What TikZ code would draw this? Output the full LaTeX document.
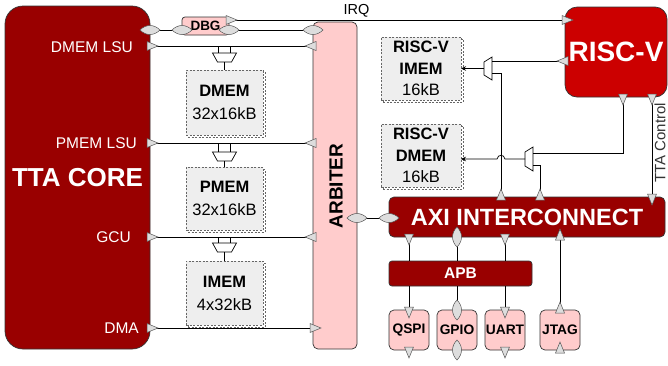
\documentclass[tikz,border=0pt]{standalone}
\usepackage{fontspec}
\setmainfont{Liberation Sans}
\usetikzlibrary{arrows.meta}
\definecolor{darkred}{HTML}{990000}
\definecolor{rvred}{HTML}{CC0000}
\definecolor{pinkfill}{HTML}{FFCCCC}
\definecolor{memfill}{HTML}{EEEEEE}
\definecolor{memline}{HTML}{666666}
\definecolor{portfill}{HTML}{DDDDDD}
\definecolor{portline}{HTML}{555555}
\definecolor{edgegray}{HTML}{333333}
\newcommand{\fsz}[2]{\fontsize{#1}{#2}\selectfont}
\begin{document}
\begin{tikzpicture}[x=1pt,y=-1pt,
  box/.style={draw=edgegray, line width=0.7pt, inner sep=0pt, outer sep=0pt},
  core/.style={box, fill=darkred, rounded corners=18pt, minimum width=145pt, minimum height=343pt, text=white, font=\bfseries\fsz{26}{30}},
  arbstyle/.style={box, fill=pinkfill, rounded corners=5pt, minimum width=44pt, minimum height=327pt},
  dbgstyle/.style={box, fill=pinkfill, rounded corners=3pt, minimum width=47pt, minimum height=18pt, font=\bfseries\fsz{13.5}{15}},
  rvstyle/.style={box, fill=rvred, rounded corners=12pt, minimum width=102pt, minimum height=90pt, text=white, font=\bfseries\fsz{28}{32}},
  busstyle/.style={box, fill=darkred, rounded corners=5pt, text=white},
  periph/.style={box, fill=pinkfill, rounded corners=5pt, minimum width=40pt, minimum height=40pt, font=\bfseries\fsz{13.8}{16}},
  mem/.style={draw=memline, line width=0.6pt, dash pattern=on 2pt off 1.5pt, fill=memfill, inner sep=0pt, outer sep=0pt, align=center,
     preaction={draw=memline, line width=0.6pt, dash pattern=on 2pt off 1.5pt, fill=white, transform canvas={shift={(2pt,-2pt)}}}},
  wire/.style={draw=black, line width=0.7pt},
  port/.style={fill=portfill, draw=portline, line width=0.5pt},
  muxs/.style={draw=black, line width=0.7pt, fill=white},
  pics/tri/.style={code={\draw[port] (-3,-4.5) -- (8,0) -- (-3,4.5) -- cycle;}},
  pics/dia/.style={code={\draw[port] (-10,0) .. controls (-4,-6) and (4,-6) .. (10,0) .. controls (4,6) and (-4,6) .. (-10,0) -- cycle;}},
  lbl/.style={text=white, font=\fsz{15.5}{18}, inner sep=0pt},
  arr/.style={-{Stealth[length=5pt,width=4.5pt]}}
]
\fill[white] (0,0) rectangle (668,365);
\useasboundingbox (0,0) rectangle (668,365);

% main blocks
\node[core] (tta) at (77.5,177.5) {TTA CORE};
\node[arbstyle] (arb) at (335,185.5) {};
\node[font=\bfseries\fsz{19}{22}, rotate=90, inner sep=0pt] (arbt) at (336,186) {ARBITER};
\node[dbgstyle] (dbg) at (205.5,26) {DBG};
\node[rvstyle] (rv) at (616,52) {RISC-V};
\node[busstyle, minimum width=276pt, minimum height=40pt, font=\bfseries\fsz{23.5}{26}] (axi) at (527,217) {AXI INTERCONNECT};
\node[busstyle, rounded corners=3pt, minimum width=143pt, minimum height=25pt, font=\bfseries\fsz{15.5}{18}] (apb) at (460.5,273.5) {APB};
\node[periph] (qspi) at (409,330) {QSPI};
\node[periph] (gpio) at (457,330) {GPIO};
\node[periph] (uart) at (505,330) {UART};
\node[periph] (jtag) at (560,330) {JTAG};

% memories
\node[mem, minimum width=77pt, minimum height=65pt, font=\fsz{16.5}{23}] (dmem) at (224.5,102.5) {\textbf{DMEM}\\32x16kB};
\node[mem, minimum width=77pt, minimum height=63pt, font=\fsz{16.5}{23}] (pmem) at (224.5,198.5) {\textbf{PMEM}\\32x16kB};
\node[mem, minimum width=77pt, minimum height=64pt, font=\fsz{16.5}{23}] (imem) at (224.5,293) {\textbf{IMEM}\\4x32kB};
\node[mem, minimum width=80pt, minimum height=63pt, font=\fsz{16.5}{21.5}] (rvimem) at (421,68.5) {\textbf{RISC-V}\\\textbf{IMEM}\\16kB};
\node[mem, minimum width=80pt, minimum height=63pt, font=\fsz{16.5}{21.5}] (rvdmem) at (421,155.5) {\textbf{RISC-V}\\\textbf{DMEM}\\16kB};

% TTA labels
\node[lbl, anchor=east] (ldmem) at (133,47) {DMEM LSU};
\node[lbl, anchor=east] (lpmem) at (137,143) {PMEM LSU};
\node[lbl, anchor=east] (lgcu) at (131,237) {GCU};
\node[lbl, anchor=east] (ldma) at (139,328) {DMA};
\node[font=\fsz{14.5}{17}, inner sep=0pt] (irq) at (356.5,10.5) {IRQ};
\node[font=\fsz{15}{18}, text=edgegray, rotate=90, inner sep=0pt] (ttac) at (660,143) {TTA Control};

% muxes (TTA memories)
\draw[muxs] (212.5,53) -- (236.5,53) -- (231.5,62) -- (217.5,62) -- cycle;
\draw[muxs] (212.5,152) -- (236.5,152) -- (231.5,161) -- (217.5,161) -- cycle;
\draw[muxs] (212.5,243) -- (236.5,243) -- (231.5,252) -- (217.5,252) -- cycle;
% muxes (RISC-V memories)
\draw[muxs] (492,57) -- (492,80) -- (484,75) -- (484,62) -- cycle;
\draw[muxs] (533,147) -- (533,171) -- (525,166) -- (525,152) -- cycle;

% TTA / arbiter wires
\draw[wire] (tta.east |- 0,30) -- (dbg.west |- 0,30);
\draw[wire] (dbg.east |- 0,30) -- (arb.west |- 0,30);
\draw[wire] (dbg.east |- 0,20) -- (rv.west |- 0,20);
\draw[wire] (tta.east |- 0,46) -- (arb.west |- 0,46);
\draw[wire] (tta.east |- 0,143) -- (arb.west |- 0,143);
\draw[wire] (tta.east |- 0,237) -- (arb.west |- 0,237);
\draw[wire] (tta.east |- 0,328) -- (arb.west |- 0,328);
\foreach \yy/\my in {46/53,143/152,237/243}{
  \draw[wire] (218.5,\yy) -- (218.5,\my);
  \draw[wire] (230.5,\yy) -- (230.5,\my);
}
\draw[wire] (224.5,62) -- (dmem.north);
\draw[wire] (224.5,161) -- (pmem.north);
\draw[wire] (224.5,252) -- (imem.north);
\draw[wire] (arb.east |- 0,218) -- (axi.west |- 0,218);

% RISC-V side wires
\draw[wire] (rv.west |- 0,61) -- (492,61);
\draw[wire, arr] (484,68.5) -- (rvimem.east);
\draw[wire] (axi.north -| 501,0) -- (501,73) -- (492,73);
\draw[wire] (axi.north -| 540,0) -- (540,165) -- (533,165);
\draw[wire] (rv.south -| 623,0) -- (623,153) -- (533,153);
\draw[wire] (rv.south -| 652,0) -- (axi.north -| 652,0);
\draw[wire, arr] (525,159) -- (505,159) .. controls (504,154) and (498,154) .. (497,159) -- (rvdmem.east |- 0,159);

% AXI / APB / peripherals
\draw[wire] (axi.south -| 409,0) -- (apb.north -| 409,0);
\draw[wire] (axi.south -| 457,0) -- (apb.north -| 457,0);
\draw[wire] (axi.south -| 505,0) -- (apb.north -| 505,0);
\draw[wire] (apb.south -| 409,0) -- (qspi.north);
\draw[wire] (apb.south -| 457,0) -- (gpio.north);
\draw[wire] (apb.south -| 505,0) -- (uart.north);
\draw[wire] (axi.south -| 560,0) -- (jtag.north);

% ports
\pic at (tta.east |- 0,30) {dia};
\foreach \yy in {46,143,237,328} \pic at (tta.east |- 0,\yy) {tri};
\pic at (dbg.west |- 0,30) {dia};
\pic at (dbg.east |- 0,30) {dia};
\pic at (dbg.east |- 0,20) {tri};
\pic at (arb.west |- 0,30) {dia};
\foreach \yy in {46,143,237} \pic[rotate=180] at (arb.west |- 0,\yy) {tri};
\pic at (arb.west |- 0,328) {tri};
\pic at (arb.east |- 0,218) {dia};
\pic at (axi.west |- 0,218) {dia};
\pic at (rv.west |- 0,20) {tri};
\pic[rotate=180] at (rv.west |- 0,61) {tri};
\pic[rotate=-90] at (rv.south -| 623,0) {tri};
\pic[rotate=-90] at (rv.south -| 652,0) {tri};
\pic[rotate=-90] at (axi.north -| 652,0) {tri};
\pic[rotate=90] at (axi.north -| 501,0) {tri};
\pic[rotate=90] at (axi.north -| 540,0) {tri};
\pic[rotate=-90] at (axi.south -| 409,0) {tri};
\pic[rotate=90] at (axi.south -| 457,0) {dia};
\pic[rotate=-90] at (axi.south -| 505,0) {tri};
\pic[rotate=90] at (axi.south -| 560,0) {tri};
\pic[rotate=-90] at (qspi.north) {tri};
\pic[rotate=-90] at (qspi.south) {tri};
\pic[rotate=90] at (gpio.north) {dia};
\pic[rotate=90] at (gpio.south) {dia};
\pic[rotate=-90] at (uart.north) {tri};
\pic[rotate=-90] at (uart.south) {tri};
\pic[rotate=90] at (jtag.north) {tri};
\pic[rotate=90] at (jtag.south) {tri};
\end{tikzpicture}
\end{document}
